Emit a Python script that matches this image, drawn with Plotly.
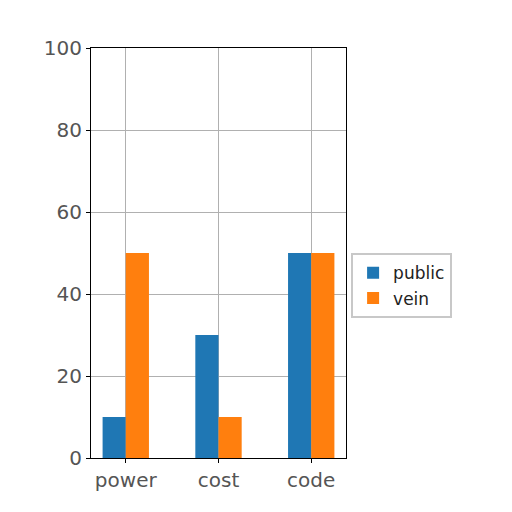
import plotly.graph_objects as go

categories = ["power", "cost", "code"]
public_vals = [10, 30, 50]
vein_vals = [50, 10, 50]
y_ticks = [0, 20, 40, 60, 80, 100]

fig = go.Figure()
fig.add_trace(go.Bar(x=categories, y=public_vals, name="public",
                     marker=dict(color="#1f77b4", line=dict(width=0))))
fig.add_trace(go.Bar(x=categories, y=vein_vals, name="vein",
                     marker=dict(color="#ff7f0e", line=dict(width=0))))

fig.update_layout(
    width=512, height=512,
    margin=dict(l=83, r=174, t=40, b=62),
    paper_bgcolor="white", plot_bgcolor="white",
    barmode="group", bargap=0.5, bargroupgap=0,
    font=dict(family="DejaVu Sans", size=20, color="#555"),
    legend=dict(x=1.02, y=0.42, xanchor="left", yanchor="middle",
                bordercolor="#c8c8c8", borderwidth=2,
                font=dict(size=17, color="#222"), tracegroupgap=4),
)
fig.update_xaxes(range=[-0.375, 2.375], showgrid=True, gridcolor="#b0b0b0", gridwidth=1,
                 showline=True, linecolor="black", linewidth=1.2, mirror=True,
                 ticks="outside", ticklen=4, tickcolor="black")
fig.update_yaxes(range=[0, 100], tickvals=y_ticks, showgrid=True, gridcolor="#b0b0b0",
                 gridwidth=1, showline=True, linecolor="black", linewidth=1.2, mirror=True,
                 ticks="outside", ticklen=4, tickcolor="black", zeroline=False)

fig.write_html("out.html")
